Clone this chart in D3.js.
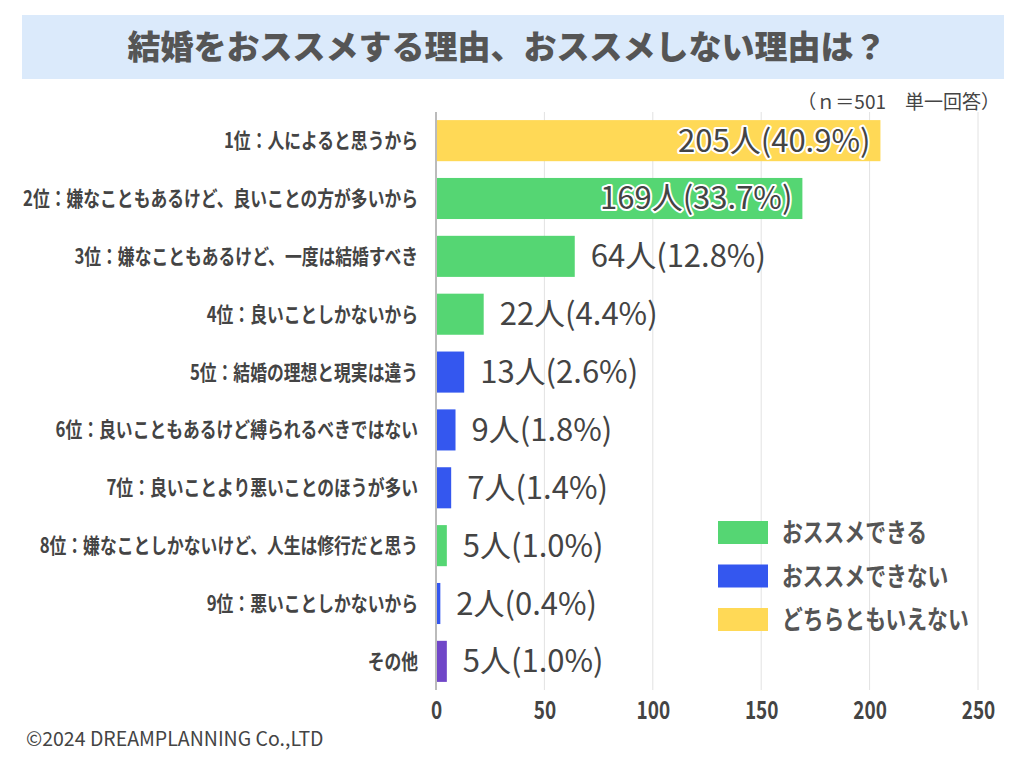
<!DOCTYPE html>
<html>
<head>
<meta charset="utf-8">
<script src="https://cdn.jsdelivr.net/npm/d3@7"></script>
<style>
  body { margin: 0; background: #fff; }
  svg { display: block; font-family: "Noto Sans CJK JP", "Noto Sans", sans-serif; }
</style>
</head>
<body>
<div class="Canvas"></div>
<script>
// chart data
const reasons = [
    '1位：人によると思うから',
    '2位：嫌なこともあるけど、良いことの方が多いから',
    '3位：嫌なこともあるけど、一度は結婚すべき',
    '4位：良いことしかないから',
    '5位：結婚の理想と現実は違う',
    '6位：良いこともあるけど縛られるべきではない',
    '7位：良いことより悪いことのほうが多い',
    '8位：嫌なことしかないけど、人生は修行だと思う',
    '9位：悪いことしかないから',
    'その他'
];
const counts = [205, 169, 64, 22, 13, 9, 7, 5, 2, 5];
const percents = ['40.9', '33.7', '12.8', '4.4', '2.6', '1.8', '1.4', '1.0', '0.4', '1.0'];
const groups = ['neutral', 'yes', 'yes', 'yes', 'no', 'no', 'no', 'yes', 'no', 'other'];
const legendLabels = ['おススメできる', 'おススメできない', 'どちらともいえない'];
const legendGroups = ['yes', 'no', 'neutral'];
const xTicks = [0, 50, 100, 150, 200, 250];

const width = 1024;
const height = 768;
const textColor = '#444';

const colorOf = d3.scaleOrdinal()
    .domain(['yes', 'no', 'neutral', 'other'])
    .range(['#55d673', '#3457ef', '#ffd956', '#7046c8']);

const svg = d3.select('.Canvas').append('svg')
    .attr('width', width)
    .attr('height', height);

// title banner
svg.append('rect')
    .attr('x', 22).attr('y', 15)
    .attr('width', 982).attr('height', 64)
    .attr('fill', '#dbeafb');
svg.append('text')
    .attr('x', 507).attr('y', 59)
    .attr('text-anchor', 'middle')
    .attr('font-size', '33px')
    .attr('font-weight', 900)
    .attr('fill', '#555')
    .text('結婚をおススメする理由、おススメしない理由は？');

svg.append('text')
    .attr('x', 1000).attr('y', 109)
    .attr('text-anchor', 'end')
    .attr('font-size', '19px')
    .attr('fill', textColor)
    .text('（ｎ＝501　単一回答）');

const x = d3.scaleLinear().domain([0, 250]).range([436, 978]);
const y = d3.scaleBand().domain(reasons).range([112, 690]).paddingInner(0.29).paddingOuter(0.14);

// grid lines
svg.append('g')
    .selectAll('line')
    .data(xTicks.slice(1))
    .enter()
    .append('line')
    .attr('x1', (d) => x(d)).attr('x2', (d) => x(d))
    .attr('y1', 112).attr('y2', 690)
    .attr('stroke', '#e2e2e2')
    .attr('stroke-width', 1);

// bars
svg.append('g')
    .selectAll('rect')
    .data(reasons)
    .enter()
    .append('rect')
    .attr('x', x(0))
    .attr('y', (d) => y(d))
    .attr('width', (d, i) => x(counts[i]) - x(0))
    .attr('height', y.bandwidth())
    .attr('fill', (d, i) => colorOf(groups[i]));

// axis line at zero
svg.append('line')
    .attr('x1', x(0)).attr('x2', x(0))
    .attr('y1', 112).attr('y2', 690)
    .attr('stroke', '#bbb')
    .attr('stroke-width', 2);

// bottom axis, ticks only as labels
const xAxis = svg.append('g')
    .attr('transform', 'translate(0,690)')
    .call(d3.axisBottom(x).tickValues(xTicks).tickSize(0).tickPadding(11));
xAxis.select('.domain').remove();
xAxis.selectAll('text')
    .attr('font-family', '"Noto Sans CJK JP", sans-serif')
    .attr('font-size', '25px')
    .attr('font-weight', 'bold')
    .attr('fill', textColor)
    .style('transform', 'scaleX(0.76)');

// category labels (condensed)
const labelX = 418;
svg.append('g')
    .selectAll('text')
    .data(reasons)
    .enter()
    .append('text')
    .attr('transform', (d) => `translate(${labelX},${y(d) + y.bandwidth() / 2 + 7.5}) scale(0.8,1)`)
    .attr('text-anchor', 'end')
    .attr('font-size', '21px')
    .attr('font-weight', 'bold')
    .attr('fill', textColor)
    .text((d) => d);

// value labels: inside for long bars, outside for short ones
svg.append('g')
    .selectAll('text')
    .data(reasons)
    .enter()
    .append('text')
    .attr('x', (d, i) => (counts[i] > 100 ? x(counts[i]) - 10 : x(counts[i]) + 16))
    .attr('y', (d) => y(d) + y.bandwidth() / 2 + 11)
    .attr('text-anchor', (d, i) => (counts[i] > 100 ? 'end' : 'start'))
    .attr('font-size', '31px')
    .attr('fill', textColor)
    .attr('stroke', (d, i) => (counts[i] > 100 ? '#fff' : 'none'))
    .attr('stroke-width', 4)
    .attr('stroke-linejoin', 'round')
    .attr('paint-order', 'stroke')
    .text((d, i) => `${counts[i]}人(${percents[i]}%)`);

// legend
const legend = svg.append('g')
    .selectAll('g')
    .data(legendLabels)
    .enter()
    .append('g')
    .attr('transform', (d, i) => `translate(718,${521 + i * 43.5})`);
legend.append('rect')
    .attr('width', 50).attr('height', 23)
    .attr('fill', (d, i) => colorOf(legendGroups[i]));
legend.append('text')
    .attr('transform', 'translate(64,21) scale(0.8,1)')
    .attr('font-size', '26px')
    .attr('font-weight', 'bold')
    .attr('fill', '#555')
    .text((d) => d);

svg.append('text')
    .attr('x', 26).attr('y', 746)
    .attr('font-size', '19.5px')
    .attr('fill', textColor)
    .text('©2024 DREAMPLANNING Co.,LTD');
</script>
</body>
</html>
